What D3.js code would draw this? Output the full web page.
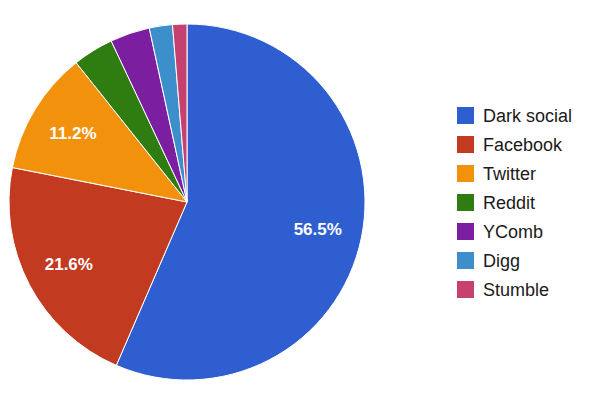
<!DOCTYPE html>
<html>
<head>
<meta charset="utf-8">
<script src="https://cdn.jsdelivr.net/npm/d3@7"></script>
<style>
  body { margin: 0; background: #fff; }
  text { font-family: "Liberation Sans", Arial, sans-serif; }
</style>
</head>
<body>
<div id="chart"></div>
<script>
// slice data
var categories = ["Dark social", "Facebook", "Twitter", "Reddit", "YComb", "Digg", "Stumble"];
var shares = [56.5, 21.6, 11.2, 3.7, 3.6, 2.1, 1.3];
var colours = ["#2f5ed1", "#c23a1f", "#f2920c", "#2f7d10", "#7b1fa0", "#3c8fca", "#c6416f"];

var width = 600, height = 398;
var cx = 187, cy = 202, radius = 178;

var svg = d3.select("#chart")
    .append("svg")
    .attr("width", width)
    .attr("height", height);

var data = categories.map(function(c, i){ return {name: c, value: shares[i], colour: colours[i]}; });

var pie = d3.pie()
    .value(function(d){ return d.value; })
    .sort(null);

var arc = d3.arc().innerRadius(0).outerRadius(radius);
var labelArc = d3.arc().innerRadius(radius * 0.75).outerRadius(radius * 0.75);

var g = svg.append("g").attr("transform", "translate(" + cx + "," + cy + ")");

var slices = g.selectAll(".slice")
    .data(pie(data))
    .enter()
    .append("g")
    .attr("class", "slice");

slices.append("path")
    .attr("d", arc)
    .attr("fill", function(d){ return d.data.colour; })
    .attr("stroke", "#fff")
    .attr("stroke-width", 1);

// only the big slices get a percentage
slices.filter(function(d){ return d.data.value > 5; })
    .append("text")
    .attr("transform", function(d){ return "translate(" + labelArc.centroid(d) + ")"; })
    .attr("text-anchor", "middle")
    .attr("dy", "0.36em")
    .attr("fill", "#fff")
    .style("font-size", "17px")
    .style("font-weight", "bold")
    .text(function(d){ return d.data.value.toFixed(1) + "%"; });

// legend
var legendY = d3.scalePoint()
    .domain(categories)
    .range([115.5, 289.5]);

var legend = svg.append("g")
    .selectAll(".legendItem")
    .data(data)
    .enter()
    .append("g")
    .attr("class", "legendItem")
    .attr("transform", function(d){ return "translate(457," + legendY(d.name) + ")"; });

legend.append("rect")
    .attr("x", 0)
    .attr("y", -8.5)
    .attr("width", 17)
    .attr("height", 17)
    .attr("fill", function(d){ return d.colour; });

legend.append("text")
    .attr("x", 26)
    .attr("dy", "0.36em")
    .attr("fill", "#1a1a1a")
    .style("font-size", "18px")
    .text(function(d){ return d.name; });
</script>
</body>
</html>
